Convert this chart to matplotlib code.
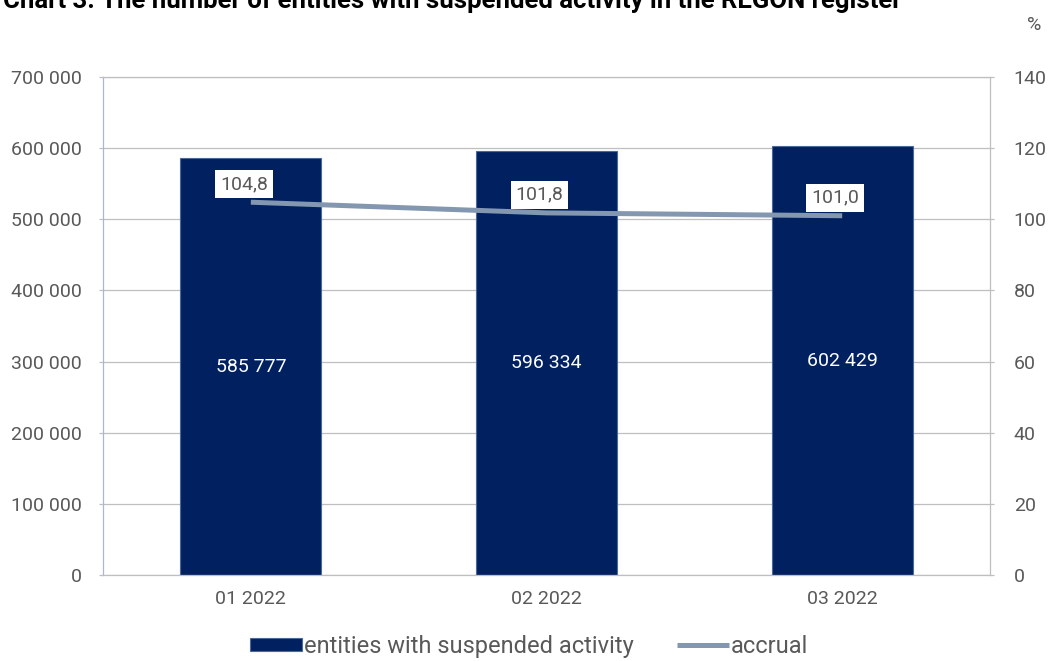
import matplotlib.pyplot as plt
import numpy as np

months = ["01 2022", "02 2022", "03 2022"]
entities = [585777, 596334, 602429]
accrual = [104.8, 101.8, 101.0]
entity_labels = ["585 777", "596 334", "602 429"]
accrual_labels = ["104,8", "101,8", "101,0"]
left_ticks = [0, 100000, 200000, 300000, 400000, 500000, 600000, 700000]
left_ticklabels = ["0", "100 000", "200 000", "300 000", "400 000", "500 000", "600 000", "700 000"]
right_ticks = [0, 20, 40, 60, 80, 100, 120, 140]

plt.rcParams['font.family'] = ['Roboto', 'DejaVu Sans']

bar_col = '#002060'
line_col = '#8497B0'
txt_col = '#595959'
grid_col = '#BFBFBF'

fig = plt.figure(figsize=(10.48, 6.61), dpi=100)
ax = fig.add_axes([0.0983, 0.1301, 0.8464, 0.7534])
x = np.arange(len(months))

bars = ax.bar(x, entities, width=0.476, color=bar_col, edgecolor='#4A6A9A', linewidth=0.8,
              label="entities with suspended activity", zorder=2)
ax.set_xlim(-0.5, 2.5)
ax.set_ylim(0, 700000)
ax.set_yticks(left_ticks)
ax.set_yticklabels(left_ticklabels)
ax.set_xticks(x)
ax.set_xticklabels(months)
ax.yaxis.grid(True, color=grid_col, linewidth=0.9, zorder=0)
ax.set_axisbelow(True)
ax.tick_params(axis='y', length=3, width=0.9, color=grid_col, labelsize=14, labelcolor=txt_col, pad=12)
ax.tick_params(axis='x', length=0, labelsize=14, labelcolor=txt_col, pad=11)
for s in ax.spines.values():
    s.set_color(grid_col)
    s.set_linewidth(0.9)
ax.spines['left'].set_color('#A9B8CF')

for xi, v, lab in zip(x, entities, entity_labels):
    ax.text(xi, v / 2, lab, color='white', ha='center', va='center', fontsize=14, zorder=3)

ax2 = ax.twinx()
ax2.set_ylim(0, 140)
ax2.set_yticks(right_ticks)
ax2.tick_params(axis='y', length=3, width=0.9, color=grid_col, labelsize=14, labelcolor=txt_col, pad=14)
for s in ax2.spines.values():
    s.set_visible(False)
ln, = ax2.plot(x, accrual, color=line_col, linewidth=3.6, solid_capstyle='butt',
               label="accrual", zorder=3)
for xi, v, lab in zip(x, accrual, accrual_labels):
    ax2.annotate(lab, (xi, v), xytext=(-5, 13), textcoords='offset points',
                 ha='center', va='center', fontsize=14, color=txt_col,
                 bbox=dict(boxstyle='square,pad=0.25', fc='white', ec='none'))

fig.text(0.994, 0.962, "%", ha='right', va='center', fontsize=14, color=txt_col)
fig.text(0.003, 1 - 8 / 661, "Chart 3. The number of entities with suspended activity in the REGON register",
         ha='left', va='baseline', fontsize=18.5, fontweight='bold', color='black')

fig.legend([bars, ln], ["entities with suspended activity", "accrual"], loc='center',
           bbox_to_anchor=(0.505, 0.022), ncol=2, frameon=False, fontsize=17,
           labelcolor=txt_col, handlelength=2.2, handletextpad=0.1, columnspacing=1.8,
           handleheight=0.5)

fig.savefig("out.png", dpi=100)
